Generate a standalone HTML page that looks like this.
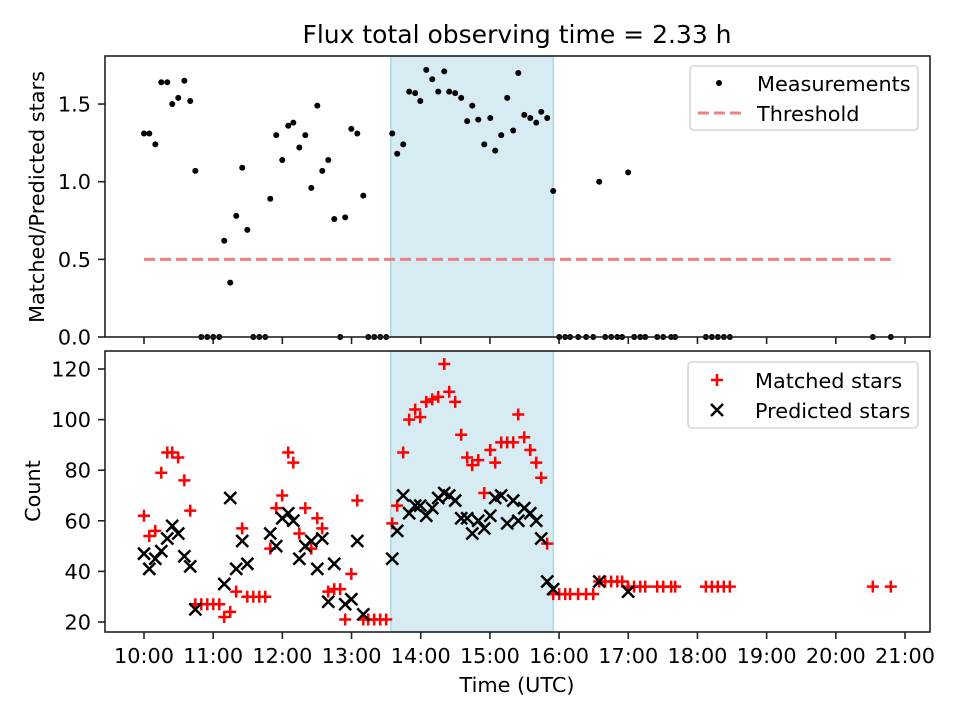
<!DOCTYPE html>
<html><head><meta charset="utf-8"><style>
body{margin:0;background:#fff}
svg{display:block;font-family:"DejaVu Sans","Liberation Sans",sans-serif}
</style></head><body>
<svg id="chart" width="960" height="720" viewBox="0 0 960 720" xmlns="http://www.w3.org/2000/svg">
<rect width="960" height="720" fill="#fff"/>
<text x="517" y="43" font-size="25" text-anchor="middle">Flux total observing time = 2.33 h</text>
<g id="topPanel"></g><g id="botPanel"></g>
<text x="517" y="692" font-size="20.8" text-anchor="middle">Time (UTC)</text>
<text transform="translate(44,197) rotate(-90)" font-size="20.8" text-anchor="middle">Matched/Predicted stars</text>
<text transform="translate(40,491) rotate(-90)" font-size="20.8" text-anchor="middle">Count</text>
</svg>
<script>
// minutes after 10:00 UTC
const times=[0,4.6,9.8,15,20.2,24.5,29.7,35,40.1,44.5,49.7,54.9,60.1,65.3,69.6,74.8,80,85.2,89.6,94.8,100,105.2,109.5,114.7,119.9,125.1,129.5,134.7,139.9,145.1,150.3,154.6,159.8,165,170.2,174.5,179.8,185,190.2,194.5,199.7,204.9,210.1,215.3,219.6,224.8,230,235.2,239.6,244.8,250,255.2,260.4,264.7,269.9,275.1,280.3,284.7,289.9,295.1,300.3,304.6,309.8,315,320.2,324.6,329.8,335,340.2,344.5,349.7,354.9,360.1,365.3,369.6,376.6,383.5,389.6,394.8,400,405.2,410.5,414.7,419.9,425.1,430.4,434.7,445.1,450.3,457.2,460.7,487.3,492.5,497.7,502.9,508.1,632.1,647.7];
const ratio=[1.31,1.31,1.24,1.64,1.64,1.50,1.54,1.65,1.52,1.07,0,0,0,0,0.62,0.35,0.78,1.09,0.69,0,0,0,0.89,1.30,1.14,1.36,1.38,1.22,1.30,0.96,1.49,1.07,1.14,0.76,0,0.77,1.34,1.31,0.91,0,0,0,0,1.31,1.18,1.24,1.58,1.57,1.52,1.72,1.66,1.58,1.71,1.58,1.57,1.54,1.39,1.49,1.40,1.24,1.41,1.20,1.30,1.54,1.33,1.70,1.43,1.41,1.38,1.45,1.41,0.94,0,0,0,0,0,0,1.00,0,0,0,0,1.06,0,0,0,0,0,0,0,0,0,0,0,0,0,0];
const matched=[62,54,56,79,87,87,85,76,64,27,27,27,27,27,22,24,32,57,30,30,30,30,49,65,70,87,83,55,65,49,61,57,32,33,33,21,39,68,21,21,21,21,21,59,66,87,100,104,101,107,108,109,122,111,107,94,85,82,84,71,88,83,91,91,91,102,93,88,83,77,51,31,31,31,31,31,31,31,36,36,36,36,36,34,34,34,34,34,34,34,34,34,34,34,34,34,34,34];
const predicted=[47,41,45,48,53,58,55,46,42,25,null,null,null,null,35,69,41,52,43,null,null,null,55,50,61,63,60,45,50,52,41,53,28,43,null,27,29,52,23,null,null,null,null,45,56,70,63,66,66,62,65,69,71,70,68,61,61,55,60,57,62,69,70,59,68,60,65,63,60,53,36,33,null,null,null,null,null,null,36,null,null,null,null,32,null,null,null,null,null,null,null,null,null,null,null,null,null,null];
const hourTicks=["10:00","11:00","12:00","13:00","14:00","15:00","16:00","17:00","18:00","19:00","20:00","21:00"];
const ratioTicks=[0,0.5,1.0,1.5];
const countTicks=[20,40,60,80,100,120];
const threshold=0.5;
const shadeStart=214, shadeEnd=355;

const NS="http://www.w3.org/2000/svg";
const L=105,R=930,FS=20.8;
const xS=m=>144+m*(761/660);
const yTop=v=>337-v*155.3;
const yBot=v=>622-(v-20)*2.53;
function mk(p,tag,a){const e=document.createElementNS(NS,tag);for(const k in a)e.setAttribute(k,a[k]);p.appendChild(e);return e;}
const plus=(x,y)=>`M${x-6},${y}H${x+6}M${x},${y-6}V${y+6}`;
const cross=(x,y)=>`M${x-6},${y-6}L${x+6},${y+6}M${x-6},${y+6}L${x+6},${y-6}`;

function panel(g,T,B,yS,ticks,fmt,nm){
  const s=mk(g,'rect',{x:xS(shadeStart),y:T,width:xS(shadeEnd)-xS(shadeStart),height:B-T,fill:'#add8e6','fill-opacity':0.5,stroke:'#add8e6','stroke-width':1.5});
  
  
  hourTicks.forEach((h,i)=>{const x=xS(i*60);
    const t=mk(g,'line',{x1:x,x2:x,y1:B,y2:B+7,stroke:'#222','stroke-width':1.6});
    
    
    if(nm==='bottom'){const tx=mk(g,'text',{x:x,y:B+31,'font-size':FS,'text-anchor':'middle'});tx.textContent=h;
      
      }
  });
  ticks.forEach(v=>{const y=yS(v);
    const t=mk(g,'line',{x1:L-7,x2:L,y1:y,y2:y,stroke:'#222','stroke-width':1.6});
    
    
    const tx=mk(g,'text',{x:L-14,y:y+7.5,'font-size':FS,'text-anchor':'end'});tx.textContent=fmt(v);
    
    
  });
}
const gTop=document.getElementById('topPanel'),gBot=document.getElementById('botPanel');
panel(gTop,56,337,yTop,ratioTicks,v=>v.toFixed(1),'top');
panel(gBot,351,632,yBot,countTicks,v=>String(v),'bottom');

const th=mk(gTop,'line',{x1:xS(times[0]),x2:xS(times[times.length-1]),y1:yTop(threshold),y2:yTop(threshold),stroke:'#f08080','stroke-width':3,'stroke-dasharray':'11,5'});


times.forEach((t,i)=>{
  const c=mk(gTop,'circle',{cx:xS(t),cy:yTop(ratio[i]),r:3,fill:'#000'});
  
  
});
times.forEach((t,i)=>{
  const p=mk(gBot,'path',{d:plus(xS(t),yBot(matched[i])),stroke:'#f00','stroke-width':2.5,fill:'none'});
  
  
});
times.forEach((t,i)=>{
  if(predicted[i]===null)return;
  const p=mk(gBot,'path',{d:cross(xS(t),yBot(predicted[i])),stroke:'#000','stroke-width':2.5,fill:'none'});
  
  
});
[[gTop,56,337,'top'],[gBot,351,632,'bottom']].forEach(([g,T,B,n])=>{
  const f=mk(g,'rect',{x:L,y:T,width:R-L,height:B-T,fill:'none',stroke:'#222','stroke-width':1.6});
  
  
});
function legend(g,x,y,w,h,mx,tx,rows,items,nm){
  const b=mk(g,'rect',{x:x,y:y,width:w,height:h,rx:4,fill:'#fff','fill-opacity':0.8,stroke:'#d5d5d5','stroke-width':1.6});
  
  
  items.forEach((it,i)=>{const cy=rows[i];
    it[0](mx,cy);
    const t=mk(g,'text',{x:tx,y:cy+8,'font-size':FS});t.textContent=it[1];
    
    });
}
legend(gTop,690,66,228,64,719,757,[83,113],[
 [(x,y)=>mk(gTop,'circle',{cx:x,cy:y,r:3,fill:'#000'}),'Measurements'],
 [(x,y)=>mk(gTop,'line',{x1:698,x2:741,y1:y,y2:y,stroke:'#f08080','stroke-width':3,'stroke-dasharray':'11,5'}),'Threshold']
],'top-legend');
legend(gBot,688,362,230,66,717,755,[380,410],[
 [(x,y)=>mk(gBot,'path',{d:plus(x,y),stroke:'#f00','stroke-width':2.5}),'Matched stars'],
 [(x,y)=>mk(gBot,'path',{d:cross(x,y),stroke:'#000','stroke-width':2.5}),'Predicted stars']
],'bottom-legend');
</script>
</body></html>
